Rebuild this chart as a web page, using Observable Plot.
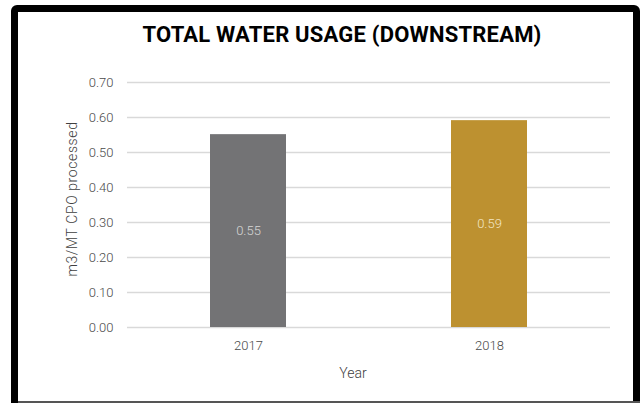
<!DOCTYPE html>
<html>
<head>
<meta charset="utf-8">
<script src="https://cdn.jsdelivr.net/npm/d3@7"></script>
<script src="https://cdn.jsdelivr.net/npm/@observablehq/plot@0.6"></script>
<style>
  html, body { margin: 0; padding: 0; background: #fff; }
  #wrap { position: relative; width: 640px; height: 403px; overflow: hidden; font-family: Roboto, "Noto Sans", sans-serif; }
  #frame { position: absolute; left: 11px; top: 5px; width: 615px; height: 410px; border: 7px solid #000; border-radius: 6px 6px 0 0; box-sizing: content-box; }
  #bottomline { position: absolute; left: 18px; right: 0; top: 401px; height: 2px; background: #555; }
  #title { position: absolute; top: 22px; left: 142px; width: 400px; text-align: center; font-weight: 700; font-size: 22px; color: #000; white-space: nowrap; letter-spacing: 0.2px; }
  #chart { position: absolute; left: 0; top: 0; }
  #ylabel { position: absolute; left: 72px; top: 199px; transform: translate(-50%, -50%) rotate(-90deg); font-size: 14px; font-weight: 300; letter-spacing: 0.6px; color: #404040; white-space: nowrap; }
  #xlabel { position: absolute; left: 353px; top: 373px; transform: translate(-50%, -50%); font-size: 14px; font-weight: 300; color: #404040; }
</style>
</head>
<body>
<div id="wrap">
  <div id="frame"></div>
  <div id="bottomline"></div>
  <div id="chart"></div>
  <div id="title">TOTAL WATER USAGE (DOWNSTREAM)</div>
  <div id="ylabel">m3/MT CPO processed</div>
  <div id="xlabel">Year</div>
</div>
<script>
const years = ["2017", "2018"];
const usage = [0.551, 0.591];
const barColors = ["#737375", "#BD9130"];
const labelColors = ["#d6d6d6", "#f3e6c4"];
const yTicks = [0, 0.1, 0.2, 0.3, 0.4, 0.5, 0.6, 0.7];

const data = years.map((y, i) => ({year: y, value: usage[i], color: barColors[i], lc: labelColors[i]}));

const chart = Plot.plot({
  width: 640,
  height: 403,
  marginLeft: 127,
  marginRight: 30,
  marginTop: 82,
  marginBottom: 76,
  style: {fontFamily: "Roboto, 'Noto Sans', sans-serif", fontSize: "13px", fontWeight: 300, background: "transparent", color: "#4a4a4a"},
  x: {domain: years, paddingInner: 0.685, paddingOuter: 0.3425, label: null, tickSize: 0, tickPadding: 13},
  y: {domain: [0, 0.7], ticks: yTicks, tickFormat: d3.format(".2f"), label: null, tickSize: 0, tickPadding: 14},
  marks: [
    Plot.ruleY(yTicks, {stroke: "#d9d9d9", strokeWidth: 1.5}),
    Plot.barY(data, {x: "year", y: "value", fill: d => d.color}),
    Plot.text(data, {x: "year", y: d => d.value / 2, text: d => d3.format(".2f")(d.value), fill: d => d.lc, fontSize: 13, fontWeight: 300})
  ]
});
document.getElementById("chart").appendChild(chart);
</script>
</body>
</html>
